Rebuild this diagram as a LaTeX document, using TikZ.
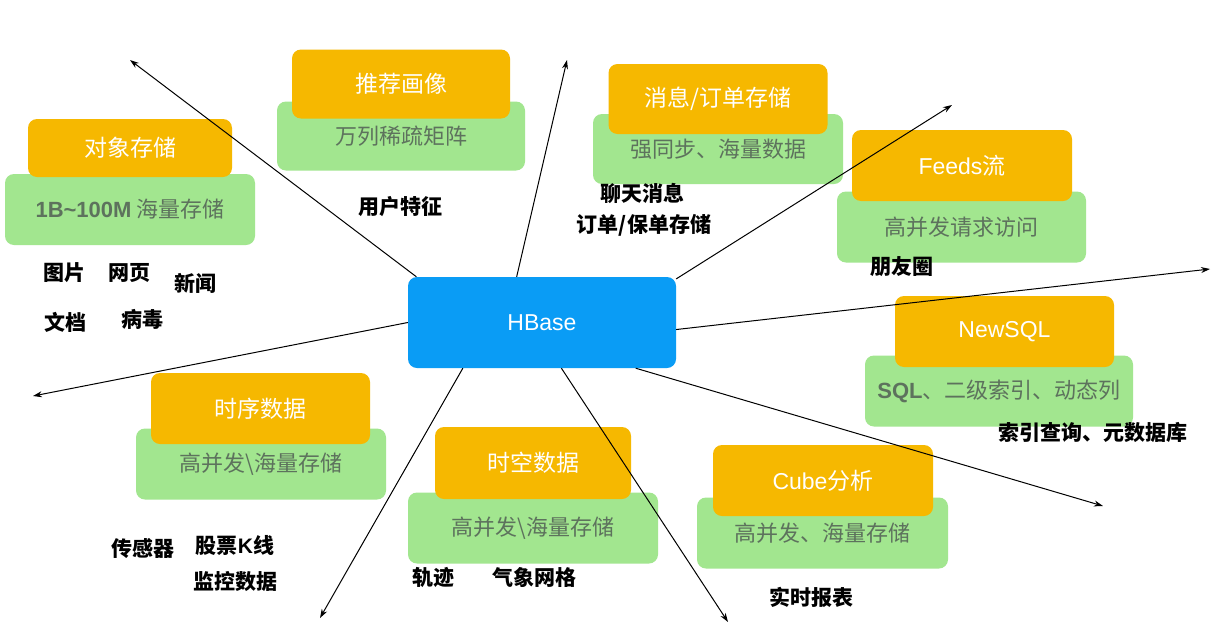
\documentclass[tikz,border=0pt]{standalone}
\usepackage{fontspec}
\setmainfont{Noto Sans CJK SC}
\newfontfamily\latin{Liberation Sans}
\usetikzlibrary{arrows.meta}
\definecolor{hubblue}{HTML}{0A9CF5}
\definecolor{topyellow}{HTML}{F6B800}
\definecolor{basegreen}{HTML}{A2E68F}
\definecolor{basetext}{HTML}{5D725D}
\tikzset{
  hub/.style={fill=hubblue, rounded corners=9pt, inner sep=0pt, text=white, font=\fontsize{23}{26}\selectfont},
  topbox/.style={fill=topyellow, rounded corners=9pt, inner sep=0pt, text=white, font=\fontsize{23}{26}\selectfont},
  basebox/.style={fill=basegreen, rounded corners=9pt, inner sep=0pt, text=basetext, font=\fontsize{22}{25}\selectfont},
  tag/.style={inner sep=0pt, font=\bfseries\fontsize{21}{24}\selectfont},
  spoke/.style={line width=1pt, -{Stealth[length=9pt,width=6pt]}}
}
\begin{document}
\begin{tikzpicture}[x=1pt,y=-1pt]
\useasboundingbox[fill=white] (0,0) rectangle (1227,627);

\node[basebox, minimum width=250, minimum height=71] (objbase) at (130,209.5) {{\latin\bfseries 1B\textasciitilde100M} 海量存储};
\node[topbox, minimum width=204, minimum height=58] (objtop) at (130,148) {对象存储};
\node[basebox, minimum width=248, minimum height=69] (recbase) at (401,136) {万列稀疏矩阵};
\node[topbox, minimum width=218, minimum height=69] (rectop) at (401,84) {推荐画像};
\node[basebox, minimum width=250, minimum height=70] (msgbase) at (718,149) {强同步、海量数据};
\node[topbox, minimum width=219, minimum height=70] (msgtop) at (718,99) {消息/订单存储};
\node[basebox, minimum width=249, minimum height=71] (feedbase) at (961.5,227) {高并发请求访问};
\node[topbox, minimum width=220, minimum height=71] (feedtop) at (962,165.5) {{\latin Feeds}流};
\node[basebox, minimum width=268, minimum height=71] (sqlbase) at (999,391) {{\latin\bfseries SQL}、二级索引、动态列};
\node[topbox, minimum width=219, minimum height=71] (sqltop) at (1004.5,331.5) {{\latin NewSQL}};
\node[basebox, minimum width=250, minimum height=71] (tsbase) at (261,464) {高并发\textbackslash 海量存储};
\node[topbox, minimum width=219, minimum height=71] (tstop) at (260.5,408.5) {时序数据};
\node[basebox, minimum width=250, minimum height=71] (geobase) at (533,528) {高并发\textbackslash 海量存储};
\node[topbox, minimum width=196, minimum height=72] (geotop) at (533,463) {时空数据};
\node[basebox, minimum width=251, minimum height=71] (cubebase) at (822.5,533) {高并发、海量存储};
\node[topbox, minimum width=220, minimum height=71] (cubetop) at (823,480.5) {{\latin Cube}分析};

\node[hub, minimum width=268, minimum height=91] (hbase) at (542,322.5) {{\latin HBase}};

\node[tag] (pic) at (64,273) {图片};
\node[tag] (web) at (129,273) {网页};
\node[tag] (news) at (195,283) {新闻};
\node[tag] (doc) at (65,322) {文档};
\node[tag] (virus) at (142.5,319) {病毒};
\node[tag] (user) at (400,207) {用户特征};
\node[tag] (chat) at (642.5,193) {聊天消息};
\node[tag] (order) at (644,225) {订单/保单存储};
\node[tag] (moments) at (902,267) {朋友圈};
\node[tag] (meta) at (1093,433) {索引查询、元数据库};
\node[tag] (sensor) at (143,548) {传感器};
\node[tag] (stock) at (235,545) {股票{\latin K}线};
\node[tag] (monitor) at (235,582) {监控数据};
\node[tag] (track) at (433,577) {轨迹};
\node[tag] (weather) at (534,577) {气象网格};
\node[tag] (report) at (811,597) {实时报表};

\coordinate (tipA) at (130,60);
\coordinate (tipB) at (567,60);
\coordinate (tipC) at (952,105);
\coordinate (tipD) at (1210,269);
\coordinate (tipE) at (1103,506);
\coordinate (tipF) at (728,622);
\coordinate (tipG) at (320,618);
\coordinate (tipH) at (33,396);

\draw[spoke] (hbase.160) -- (tipA);
\draw[spoke] (hbase.119) -- (tipB);
\draw[spoke] (hbase.18) -- (tipC);
\draw[spoke] (hbase.-3) -- (tipD);
\draw[spoke] (hbase.-26) -- (tipE);
\draw[spoke] (hbase.-67) -- (tipF);
\draw[spoke] (hbase.210) -- (tipG);
\draw[spoke] (hbase.180) -- (tipH);
\end{tikzpicture}
\end{document}
